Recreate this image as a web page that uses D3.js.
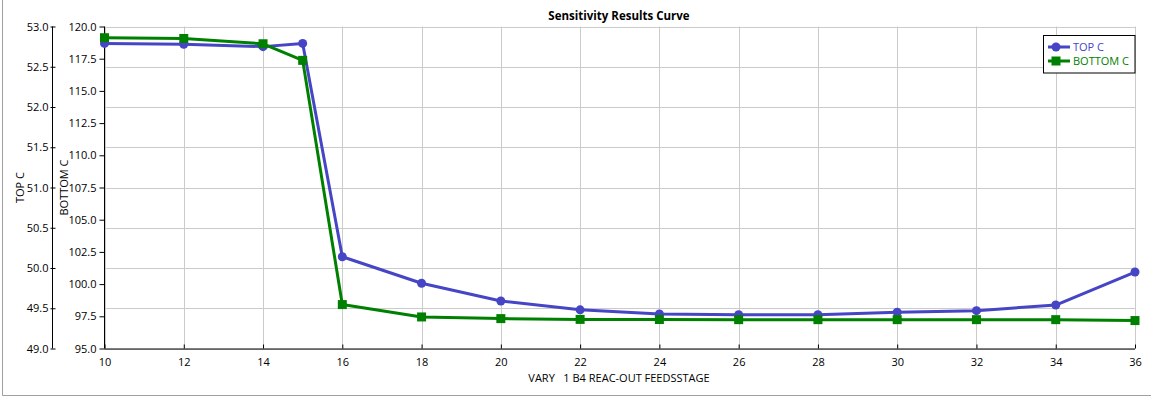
<!DOCTYPE html>
<html>
<head>
<meta charset="utf-8">
<script src="https://cdn.jsdelivr.net/npm/d3@7"></script>
<style>
  html, body { margin: 0; padding: 0; background: #fff; }
  svg { display: block; font-family: "Open Sans", "Noto Sans", sans-serif; }
</style>
</head>
<body>
<svg id="chart" width="1151" height="396"></svg>
<script>
// ---- data ----
const feedStage = [10, 12, 14, 15, 16, 18, 20, 22, 24, 26, 28, 30, 32, 34, 36];
const topC      = [52.79, 52.78, 52.75, 52.79, 50.14, 49.81, 49.59, 49.48, 49.43, 49.42, 49.42, 49.45, 49.47, 49.54, 49.95];
const bottomC   = [119.13, 119.07, 118.66, 117.37, 98.41, 97.45, 97.32, 97.26, 97.25, 97.24, 97.24, 97.24, 97.24, 97.24, 97.17];
const xTicks      = [10, 12, 14, 16, 18, 20, 22, 24, 26, 28, 30, 32, 34, 36];
const topTicks    = [49.0, 49.5, 50.0, 50.5, 51.0, 51.5, 52.0, 52.5, 53.0];
const bottomTicks = [95.0, 97.5, 100.0, 102.5, 105.0, 107.5, 110.0, 112.5, 115.0, 117.5, 120.0];
const seriesNames = ["TOP C", "BOTTOM C"];
const titleText = "Sensitivity Results Curve";
const xTitle = "VARY   1 B4 REAC-OUT FEEDSSTAGE";

// ---- layout ----
const svg = d3.select("#chart");
const L = 104.5, R = 1135, T = 26.5, B = 348.5;
const blue = "#4545c5", green = "#008000", grid = "#cbcbcb";

const x = d3.scaleLinear().domain([10, 36]).range([L, R]);
const yTop = d3.scaleLinear().domain([49, 53]).range([B, T]);
const yBot = d3.scaleLinear().domain([95, 120]).range([B, T]);

// outer frame (left & bottom visible)
svg.append("line").attr("x1", 2.5).attr("x2", 2.5).attr("y1", 0).attr("y2", 395.5).attr("stroke", "#a0a0a0");
svg.append("line").attr("x1", 2.5).attr("x2", 1151).attr("y1", 395.5).attr("y2", 395.5).attr("stroke", "#a0a0a0");

// gridlines
const g = svg.append("g");
g.selectAll(".vg").data(xTicks).enter().append("line")
  .attr("x1", d => Math.round(x(d)) + 0.5).attr("x2", d => Math.round(x(d)) + 0.5)
  .attr("y1", T).attr("y2", B).attr("stroke", grid);
g.selectAll(".hg").data(topTicks).enter().append("line")
  .attr("x1", L).attr("x2", R)
  .attr("y1", d => Math.round(yTop(d)) + 0.5).attr("y2", d => Math.round(yTop(d)) + 0.5)
  .attr("stroke", grid);

// title
svg.append("text").attr("x", 619).attr("y", 19.5).attr("text-anchor", "middle")
  .attr("font-weight", "bold").attr("font-size", 11.5).attr("fill", "#000").text(titleText);

// X axis
const xAxis = d3.axisBottom(x).tickValues(xTicks).tickSize(-4).tickPadding(10).tickFormat(d3.format("d"));
const xg = svg.append("g").attr("transform", `translate(0,${B})`).call(xAxis);
xg.select(".domain").attr("d", `M${L},0.5H${R}`);
xg.selectAll("text").attr("font-size", 11).attr("font-family", "Open Sans").attr("fill", "#000");
svg.append("text").attr("x", 619).attr("y", 382).attr("text-anchor", "middle")
  .attr("font-size", 11).attr("fill", "#000").style("white-space", "pre").text(xTitle);

// BOTTOM C axis (inner)
const bAxis = d3.axisLeft(yBot).tickValues(bottomTicks).tickSize(5).tickPadding(3).tickFormat(d3.format(".1f"));
const bg = svg.append("g").attr("transform", `translate(${L},0)`).call(bAxis);
bg.select(".domain").attr("d", `M0,${T}V${B}`);
bg.selectAll("text").attr("font-size", 11).attr("font-family", "Open Sans").attr("fill", "#000");

// TOP C axis (outer)
const tAxisX = 52.5;
const tAxis = d3.axisLeft(yTop).tickValues(topTicks).tickSize(0).tickPadding(4).tickFormat(d3.format(".1f"));
const tg = svg.append("g").attr("transform", `translate(${tAxisX},0)`).call(tAxis);
tg.select(".domain").attr("d", `M0,${T}V${B}`);
tg.selectAll(".tick line").attr("x1", -2).attr("x2", 3).attr("stroke", "#000");
tg.selectAll("text").attr("font-size", 11).attr("font-family", "Open Sans").attr("fill", "#000");

// axis titles
svg.append("text").attr("transform", `translate(24,${(T + B) / 2}) rotate(-90)`)
  .attr("text-anchor", "middle").attr("font-size", 11).attr("fill", "#000").text(seriesNames[0]);
svg.append("text").attr("transform", `translate(68,${(T + B) / 2}) rotate(-90)`)
  .attr("text-anchor", "middle").attr("font-size", 11).attr("fill", "#000").text(seriesNames[1]);

// series
const ptsTop = feedStage.map((d, i) => [x(d), yTop(topC[i])]);
const ptsBot = feedStage.map((d, i) => [x(d), yBot(bottomC[i])]);
const line = d3.line();

svg.append("path").attr("d", line(ptsTop)).attr("fill", "none").attr("stroke", blue).attr("stroke-width", 3).attr("stroke-linejoin", "round");
svg.selectAll(".ct").data(ptsTop).enter().append("circle")
  .attr("cx", d => d[0]).attr("cy", d => d[1]).attr("r", 4.5).attr("fill", blue);

svg.append("path").attr("d", line(ptsBot)).attr("fill", "none").attr("stroke", green).attr("stroke-width", 3).attr("stroke-linejoin", "round");
svg.selectAll(".sb").data(ptsBot).enter().append("rect")
  .attr("x", d => d[0] - 4.5).attr("y", d => d[1] - 4.5).attr("width", 9).attr("height", 9).attr("fill", green);

// legend
const lg = svg.append("g");
lg.append("rect").attr("x", 1043.5).attr("y", 35.5).attr("width", 91.5).attr("height", 37.5)
  .attr("fill", "#fff").attr("stroke", "#000");
const legendItems = [{name: seriesNames[0], color: blue, shape: "circle", y: 47},
                     {name: seriesNames[1], color: green, shape: "square", y: 61}];
legendItems.forEach(it => {
  lg.append("line").attr("x1", 1048).attr("x2", 1070).attr("y1", it.y).attr("y2", it.y)
    .attr("stroke", it.color).attr("stroke-width", 3);
  if (it.shape === "circle") {
    lg.append("circle").attr("cx", 1056).attr("cy", it.y).attr("r", 4.5).attr("fill", it.color);
  } else {
    lg.append("rect").attr("x", 1051.5).attr("y", it.y - 4.5).attr("width", 9).attr("height", 9).attr("fill", it.color);
  }
  lg.append("text").attr("x", 1073).attr("y", it.y + 4).attr("font-size", 11).attr("fill", it.color).text(it.name);
});
</script>
</body>
</html>
